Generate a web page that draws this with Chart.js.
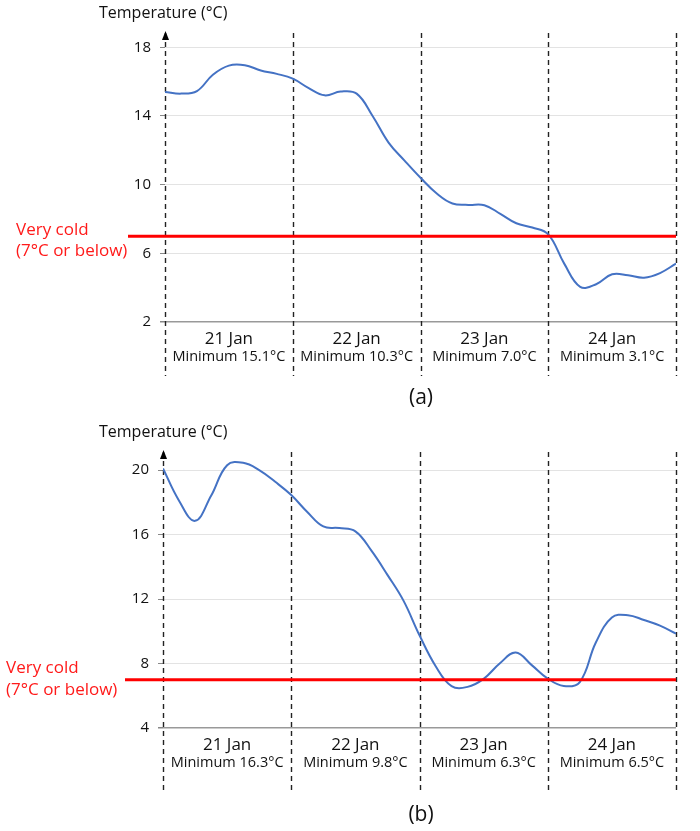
<!DOCTYPE html>
<html>
<head>
<meta charset="utf-8">
<script src="https://cdn.jsdelivr.net/npm/chart.js@4"></script>
<style>
  html, body { margin: 0; padding: 0; background: #fff; }
  .wrap { position: absolute; left: 0; width: 700px; }
  #wrapA { top: 0; height: 415px; }
  #wrapB { top: 415px; height: 416px; }
</style>
</head>
<body>
<div class="wrap" id="wrapA"><canvas id="chartA" width="700" height="415"></canvas></div>
<div class="wrap" id="wrapB"><canvas id="chartB" width="700" height="416"></canvas></div>
<script>
// === Data ===
const hours = [0, 3, 6, 9, 12, 15, 18, 21, 24, 27, 30, 33, 36, 39, 42, 45, 48,
  51, 54, 57, 60, 63, 66, 69, 72, 75, 78, 81, 84, 87, 90, 93, 96];
const tempA = [15.4, 15.3, 15.45, 16.4, 16.93, 16.95, 16.65, 16.45, 16.17, 15.62, 15.2, 15.42, 15.3, 14.0, 12.45, 11.4, 10.4,
  9.5, 8.9, 8.82, 8.8, 8.3, 7.75, 7.5, 7.1, 5.4, 4.05, 4.2, 4.78, 4.72, 4.58, 4.85, 5.4];
const tempB = [20.1, 18.1, 16.85, 18.4, 20.3, 20.45, 20.0, 19.27, 18.45, 17.4, 16.5, 16.4, 16.2, 15.0, 13.5, 11.9, 9.75,
  7.85, 6.6, 6.55, 7.05, 8.0, 8.68, 7.9, 7.06, 6.6, 6.85, 9.3, 10.85, 11.0, 10.7, 10.35, 9.85];
const dayBounds = [0, 24, 48, 72, 96];
const dayLabels = ["21 Jan", "22 Jan", "23 Jan", "24 Jan"];
const minLabelsA = ["Minimum 15.1°C", "Minimum 10.3°C", "Minimum 7.0°C", "Minimum 3.1°C"];
const minLabelsB = ["Minimum 16.3°C", "Minimum 9.8°C", "Minimum 6.3°C", "Minimum 6.5°C"];
const ticksA = [2, 6, 10, 14, 18];
const ticksB = [4, 8, 12, 16, 20];
const coldLimit = 7;
const coldText = ["Very cold", "(7°C or below)"];
const yTitle = "Temperature (°C)";

const FONT = "'Open Sans', 'Noto Sans', sans-serif";

// === Overlay: day dividers, threshold, labels ===
const overlay = {
  id: "overlay",
  beforeDatasetsDraw(chart, args, o) {
    const { ctx, chartArea: a, scales: { x } } = chart;
    ctx.save();
    ctx.strokeStyle = "#222";
    ctx.lineWidth = 1.4;
    ctx.setLineDash([5, 4]);
    dayBounds.forEach(d => {
      const px = Math.round(x.getPixelForValue(d)) + 0.5;
      ctx.beginPath();
      ctx.moveTo(px, a.top);
      ctx.lineTo(px, a.bottom + o.divExt);
      ctx.stroke();
    });
    ctx.restore();
    // arrow on top of y axis
    ctx.save();
    ctx.fillStyle = "#000";
    const ax = x.getPixelForValue(0) + 0.5;
    ctx.beginPath();
    ctx.moveTo(ax, a.top - 2);
    ctx.lineTo(ax - 3.5, a.top + 7);
    ctx.lineTo(ax + 3.5, a.top + 7);
    ctx.closePath();
    ctx.fill();
    ctx.restore();
  },
  afterDatasetsDraw(chart, args, o) {
    const { ctx, chartArea: a, scales: { x, y } } = chart;
    const ry = y.getPixelForValue(coldLimit);
    ctx.save();
    ctx.strokeStyle = "#ff0000";
    ctx.lineWidth = 3;
    ctx.beginPath();
    ctx.moveTo(o.redStart, ry);
    ctx.lineTo(a.right, ry);
    ctx.stroke();

    ctx.fillStyle = "#ff1a1a";
    ctx.font = "17px " + FONT;
    ctx.textAlign = "left";
    ctx.textBaseline = "middle";
    ctx.fillText(coldText[0], o.coldX, ry + o.coldDy[0]);
    ctx.fillText(coldText[1], o.coldX, ry + o.coldDy[1]);

    // y title
    ctx.fillStyle = "#111";
    ctx.font = "16px " + FONT;
    ctx.fillText(yTitle, 99, o.titleY);

    // day labels
    ctx.textAlign = "center";
    for (let i = 0; i < dayLabels.length; i++) {
      const cx = (x.getPixelForValue(dayBounds[i]) + x.getPixelForValue(dayBounds[i + 1])) / 2;
      ctx.fillStyle = "#111";
      ctx.font = "17px " + FONT;
      ctx.fillText(dayLabels[i], cx, a.bottom + 17);
      ctx.font = "14.5px " + FONT;
      ctx.fillText(o.mins[i], cx, a.bottom + 35);
    }

    // panel tag
    ctx.font = "21px " + FONT;
    ctx.fillText(o.tag, 421, o.tagY);
    ctx.restore();
  }
};

function makeChart(id, temps, yTicks, yMin, yMax, lay, ov) {
  return new Chart(document.getElementById(id), {
    type: "line",
    data: {
      datasets: [{
        data: hours.map((h, i) => ({ x: h, y: temps[i] })),
        borderColor: "#4472c4",
        borderWidth: 2,
        pointRadius: 0,
        fill: false,
        tension: 0.4
      }]
    },
    options: {
      responsive: false,
      animation: false,
      layout: { padding: lay },
      plugins: { legend: { display: false }, tooltip: { enabled: false }, overlay: ov },
      scales: {
        x: { type: "linear", min: 0, max: 96, display: false },
        y: {
          min: yMin, max: yMax,
          afterBuildTicks: s => { s.ticks = yTicks.map(v => ({ value: v })); },
          afterFit: s => { s.width = ov.axisW; },
          border: { display: false },
          grid: {
            color: c => (c.tick && c.tick.value === yMin) ? "#999" : "#e3e3e3",
            lineWidth: c => (c.tick && c.tick.value === yMin) ? 1.5 : 1,
            tickColor: "#888",
            tickLength: 5
          },
          ticks: { color: "#111", padding: 9, font: { size: 15, family: FONT } }
        }
      }
    },
    plugins: [overlay]
  });
}

makeChart("chartA", tempA, ticksA, 2, 18.83,
  { left: 0, right: 24, top: 33, bottom: 93 },
  { axisW: 165, divExt: 54, redStart: 128, coldX: 16, coldDy: [-6, 15], titleY: 13,
    mins: minLabelsA, tag: "(a)", tagY: 398 });

makeChart("chartB", tempB, ticksB, 4, 21.12,
  { left: 0, right: 24, top: 37, bottom: 103 },
  { axisW: 163, divExt: 62, redStart: 125, coldX: 6, coldDy: [-11, 11], titleY: 17,
    mins: minLabelsB, tag: "(b)", tagY: 400 });
</script>
</body>
</html>
